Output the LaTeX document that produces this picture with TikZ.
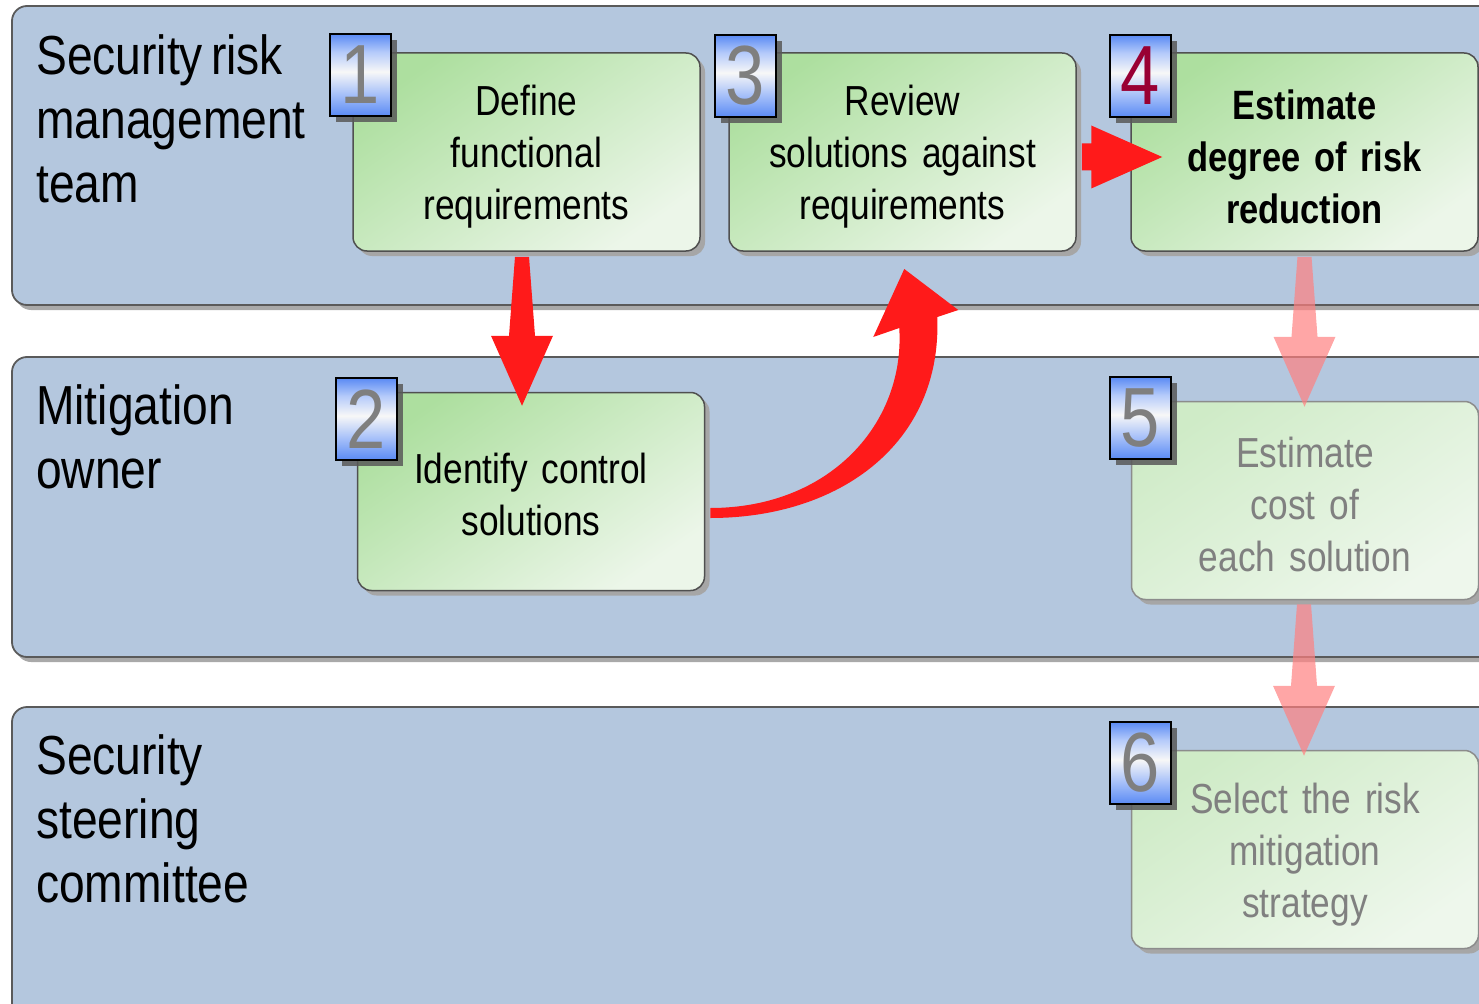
\documentclass[tikz,border=0pt]{standalone}
\usepackage{fontspec}
\setmainfont{Liberation Sans}[FakeStretch=0.84, WordSpace=0.62]
\usetikzlibrary{calc,shadows}

\definecolor{lanefill}{HTML}{B4C7DE}
\definecolor{laneline}{HTML}{5A5A5A}
\definecolor{laneshadow}{HTML}{A9A9A9}
\definecolor{boxline}{HTML}{505050}
\definecolor{greenA}{HTML}{ADDF9F}
\definecolor{greenB}{HTML}{ECF6E9}
\definecolor{paleA}{HTML}{CFEBC7}
\definecolor{paleB}{HTML}{EEF7EC}
\definecolor{paleline}{HTML}{8C8C8C}
\definecolor{badgeblue}{HTML}{5A8AF4}
\definecolor{digitgray}{HTML}{7F7F7F}
\definecolor{digitred}{HTML}{990033}
\definecolor{arrowred}{HTML}{FF1A1A}
\definecolor{fadetext}{HTML}{808080}

% the filled path spans 25bp..75bp of this shading
\pgfdeclareverticalshading{badgeshade}{100bp}{%
  color(0bp)=(badgeblue); color(25bp)=(badgeblue);
  color(38bp)=(badgeblue!55!white);
  color(52bp)=(white!94!gray); color(64bp)=(badgeblue!45!white);
  color(75bp)=(badgeblue); color(100bp)=(badgeblue)}

\tikzset{
  lane/.style={draw=laneline, line width=1.8pt, fill=lanefill, rounded corners=15pt,
    general shadow={fill=laneshadow, shadow xshift=4pt, shadow yshift=-5pt}},
  lanelabel/.style={anchor=north west, inner sep=0pt, align=left,
    font=\fontsize{55}{64}\selectfont},
  taskbox/.style={draw=boxline, line width=1.5pt, rounded corners=14pt,
    minimum width=347pt, minimum height=198pt, inner sep=0pt,
    top color=greenA, bottom color=greenB, shading angle=35,
    general shadow={fill=gray!70, shadow xshift=5pt, shadow yshift=-5pt}},
  palebox/.style={taskbox, draw=paleline, top color=paleA, bottom color=paleB,
    shading angle=35},
  boxtext/.style={inner sep=0pt, text width=330pt, align=center,
    font=\fontsize{42}{52}\selectfont},
  paletext/.style={boxtext, text=fadetext},
  badge/.style={draw=black, line width=2pt, shading=badgeshade,
    minimum width=61pt, minimum height=82pt, inner sep=0pt,
    text=digitgray, font=\fontsize{84}{84}\selectfont,
    general shadow={fill=black!65, opacity=0.85, shadow xshift=6pt, shadow yshift=-6pt}},
  solidarrow/.style={fill=arrowred},
  fadedarrow/.style={fill=red!50!white, opacity=0.7},
}

% broad vertical arrow: tail point, tip point
\newcommand\fatvarrow[3]{%
  \fill[#1] let \p1=(#2), \p2=(#3) in
    (\x1-7pt,\y1) -- (\x1+7pt,\y1) -- (\x2+13pt,\y2+70pt) -- (\x2+31pt,\y2+70pt)
    -- (\x2,\y2) -- (\x2-31pt,\y2+70pt) -- (\x2-13pt,\y2+70pt) -- cycle;}
% broad horizontal arrow: tail point, tip point
\newcommand\fatharrow[3]{%
  \fill[#1] let \p1=(#2), \p2=(#3) in
    (\x1,\y2+13.5pt) -- (\x2-71pt,\y2+13.5pt) -- (\x2-71pt,\y2+31.5pt)
    -- (\x2,\y2) -- (\x2-71pt,\y2-31.5pt) -- (\x2-71pt,\y2-13.5pt)
    -- (\x1,\y2-13.5pt) -- cycle;}

\begin{document}
\begin{tikzpicture}[x=1pt, y=-1pt]
\useasboundingbox (0,0) rectangle (1479,1003);
\clip (0,0) rectangle (1479,1003);

% swim lanes
\path[lane] (12,6) rectangle (1540,305);
\path[lane] (12,357) rectangle (1540,657);
\path[lane] (12,707) rectangle (1540,1060);

\node[lanelabel] (l1) at (36,34) {Security risk\\management\\team};
\node[lanelabel] (l2) at (36,384) {Mitigation\\owner};
\node[lanelabel] (l3) at (36,734) {Security\\steering\\committee};

% task boxes
\node[taskbox] (b1) at (526.5,152) {};
\node[taskbox] (b3) at (902.5,152) {};
\node[taskbox] (b4) at (1304.5,152) {};
\node[taskbox] (b2) at (531,491.5) {};
\node[palebox] (b5) at (1305,500.5) {};
\node[palebox] (b6) at (1305,849.5) {};

% task texts
\node[boxtext] (t1) at ($(b1.center)+(0,5)$) {Define\\functional\\requirements};
\node[boxtext] (t3) at ($(b3.center)+(0,5)$) {Review\\solutions against\\requirements};
\node[boxtext, font=\fontsize{41}{52}\selectfont\bfseries] (t4) at ($(b4.center)+(0,5)$)
  {Estimate\\degree of risk\\reduction};
\node[boxtext] (t2) at ($(b2.center)+(0,3)$) {Identify control\\solutions};
\node[paletext] (t5) at ($(b5.center)+(0,4)$) {Estimate\\cost of\\each solution};
\node[paletext] (t6) at ($(b6.center)+(0,5)$) {Select the risk\\mitigation\\strategy};

% step numbers
\node[badge] (n1) at (360,75) {1};
\node[badge] (n2) at (366,419) {2};
\node[badge] (n3) at (745,76) {3};
\node[badge, text=digitred] (n4) at (1140,76) {4};
\node[badge] (n5) at (1140,418) {5};
\node[badge] (n6) at (1140,763) {6};

% flow arrows
\coordinate (a12s) at ($(b1.south)+(-4.5,5)$);
\coordinate (a12e) at ($(a12s |- b2.north)+(0,14)$);
\fatvarrow{solidarrow}{a12s}{a12e}

\coordinate (a34s) at ($(b3.east)+(5,5)$);
\coordinate (a34e) at ($(b4.west)+(32,5)$);
\fatharrow{solidarrow}{a34s}{a34e}

\coordinate (a45s) at ($(b4.south)+(0,5)$);
\coordinate (a45e) at ($(a45s |- b5.north)+(0,6)$);
\fatvarrow{fadedarrow}{a45s}{a45e}

\coordinate (a56s) at ($(b5.south)+(-1,4)$);
\coordinate (a56e) at ($(a56s |- b6.north)+(0,6)$);
\fatvarrow{fadedarrow}{a56s}{a56e}

% curved arrow from step 2 up to step 3
\begin{scope}[shift={($(b2.east)+(5,21.5)$)}]
  \fill[solidarrow] (0,-5) .. controls (120,-5) and (195,-90) .. (189,-185)
    -- (163,-176) -- (194,-244) -- (248,-203) -- (227,-196)
    .. controls (232,-70) and (130,5) .. (0,5) -- cycle;
\end{scope}
\end{tikzpicture}
\end{document}
